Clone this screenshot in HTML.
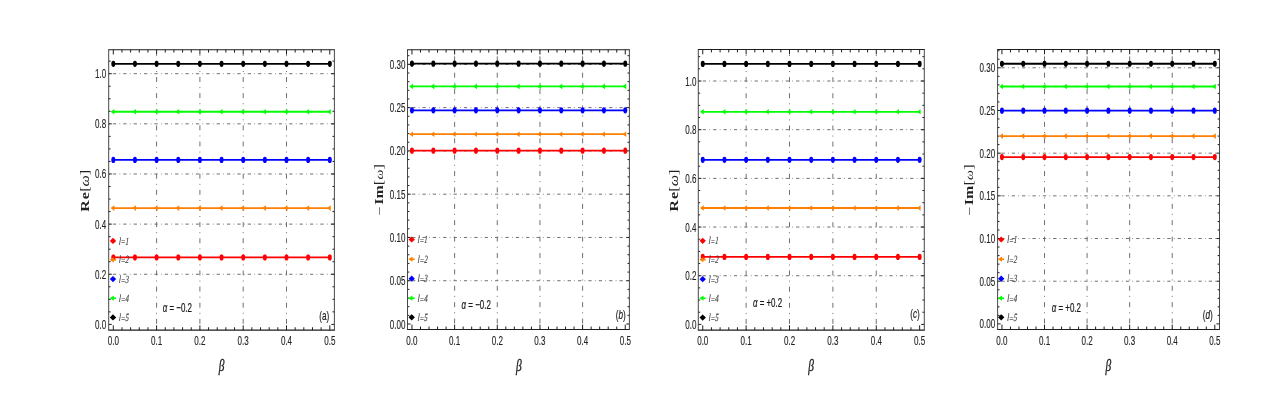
<!DOCTYPE html>
<html><head><meta charset="utf-8"><title>Plots</title>
<style>
html,body{margin:0;padding:0;background:#fff;}
svg{display:block;filter:blur(0.3px);}
.gh{stroke:#707070;stroke-width:1;}
.gv{stroke:#707070;stroke-width:1;}
.tk{stroke:#1e1e1e;stroke-width:1;fill:none;}
.frh{stroke:#1e1e1e;stroke-width:1.1;fill:none;}
.frv{stroke:#333;stroke-width:0.9;fill:none;}
.tl{font-family:"Liberation Sans", sans-serif;font-size:12.6px;fill:#222;stroke:#222;stroke-width:0.12px;}
.lg{font-family:"Liberation Serif", serif;font-size:11px;fill:#3a3a3a;stroke:#3a3a3a;stroke-width:0.15px;}
.al{font-family:"Liberation Sans", sans-serif;font-size:12.6px;fill:#1a1a1a;stroke:#1a1a1a;stroke-width:0.25px;}
.pl{font-family:"Liberation Sans", sans-serif;font-size:12.4px;fill:#222;stroke:#222;stroke-width:0.2px;}
.bt{font-family:"Liberation Serif", serif;font-size:16.8px;font-style:italic;fill:#222;stroke:#222;stroke-width:0.35px;}
.yl{font-family:"Liberation Serif", serif;font-size:16px;font-weight:bold;fill:#222;}
</style></head>
<body>
<svg width="1277" height="410" viewBox="0 0 1277 410">
<rect width="1277" height="410" fill="#fff"/>
<line x1="108.7" y1="274.26" x2="334.4" y2="274.26" class="gh" stroke-dasharray="3.30 3.30 0.75 3.02" stroke-dashoffset="6.17"/><line x1="108.7" y1="224.12" x2="334.4" y2="224.12" class="gh" stroke-dasharray="3.30 3.30 0.75 3.02" stroke-dashoffset="6.17"/><line x1="108.7" y1="173.98" x2="334.4" y2="173.98" class="gh" stroke-dasharray="3.30 3.30 0.75 3.02" stroke-dashoffset="6.17"/><line x1="108.7" y1="123.84" x2="334.4" y2="123.84" class="gh" stroke-dasharray="3.30 3.30 0.75 3.02" stroke-dashoffset="6.17"/><line x1="108.7" y1="73.7" x2="334.4" y2="73.7" class="gh" stroke-dasharray="3.30 3.30 0.75 3.02" stroke-dashoffset="6.17"/><line x1="156.6" y1="49.7" x2="156.6" y2="330.15" class="gv" stroke-dasharray="5 5.1 1 5.02" stroke-dashoffset="4.94"/><line x1="199.9" y1="49.7" x2="199.9" y2="330.15" class="gv" stroke-dasharray="5 5.1 1 5.02" stroke-dashoffset="4.94"/><line x1="243.2" y1="49.7" x2="243.2" y2="330.15" class="gv" stroke-dasharray="5 5.1 1 5.02" stroke-dashoffset="4.94"/><line x1="286.5" y1="49.7" x2="286.5" y2="330.15" class="gv" stroke-dasharray="5 5.1 1 5.02" stroke-dashoffset="4.94"/>
<path d="M113.3 330.15v-4.8M113.3 49.7v4.8M121.96 330.15v-2.9M121.96 49.7v2.9M130.62 330.15v-2.9M130.62 49.7v2.9M139.28 330.15v-2.9M139.28 49.7v2.9M147.94 330.15v-2.9M147.94 49.7v2.9M156.6 330.15v-4.8M156.6 49.7v4.8M165.26 330.15v-2.9M165.26 49.7v2.9M173.92 330.15v-2.9M173.92 49.7v2.9M182.58 330.15v-2.9M182.58 49.7v2.9M191.24 330.15v-2.9M191.24 49.7v2.9M199.9 330.15v-4.8M199.9 49.7v4.8M208.56 330.15v-2.9M208.56 49.7v2.9M217.22 330.15v-2.9M217.22 49.7v2.9M225.88 330.15v-2.9M225.88 49.7v2.9M234.54 330.15v-2.9M234.54 49.7v2.9M243.2 330.15v-4.8M243.2 49.7v4.8M251.86 330.15v-2.9M251.86 49.7v2.9M260.52 330.15v-2.9M260.52 49.7v2.9M269.18 330.15v-2.9M269.18 49.7v2.9M277.84 330.15v-2.9M277.84 49.7v2.9M286.5 330.15v-4.8M286.5 49.7v4.8M295.16 330.15v-2.9M295.16 49.7v2.9M303.82 330.15v-2.9M303.82 49.7v2.9M312.48 330.15v-2.9M312.48 49.7v2.9M321.14 330.15v-2.9M321.14 49.7v2.9M329.8 330.15v-4.8M329.8 49.7v4.8M108.7 324.4h3.1M334.4 324.4h-3.1M108.7 311.86h1.9M334.4 311.86h-1.9M108.7 299.33h1.9M334.4 299.33h-1.9M108.7 286.79h1.9M334.4 286.79h-1.9M108.7 274.26h3.1M334.4 274.26h-3.1M108.7 261.72h1.9M334.4 261.72h-1.9M108.7 249.19h1.9M334.4 249.19h-1.9M108.7 236.65h1.9M334.4 236.65h-1.9M108.7 224.12h3.1M334.4 224.12h-3.1M108.7 211.58h1.9M334.4 211.58h-1.9M108.7 199.05h1.9M334.4 199.05h-1.9M108.7 186.51h1.9M334.4 186.51h-1.9M108.7 173.98h3.1M334.4 173.98h-3.1M108.7 161.44h1.9M334.4 161.44h-1.9M108.7 148.91h1.9M334.4 148.91h-1.9M108.7 136.38h1.9M334.4 136.38h-1.9M108.7 123.84h3.1M334.4 123.84h-3.1M108.7 111.3h1.9M334.4 111.3h-1.9M108.7 98.77h1.9M334.4 98.77h-1.9M108.7 86.23h1.9M334.4 86.23h-1.9M108.7 73.7h3.1M334.4 73.7h-3.1M108.7 61.16h1.9M334.4 61.16h-1.9" class="tk"/>
<path d="M108.3 49.7H334.8M108.3 330.15H334.8" class="frh"/>
<path d="M108.7 49.7V330.15M334.4 49.7V330.15" class="frv"/>
<line x1="113.3" y1="257.4" x2="329.8" y2="257.4" stroke="#ff0000" stroke-width="1.8"/>
<g fill="#ff0000"><ellipse cx="113.3" cy="257.4" rx="2" ry="3.1"/><ellipse cx="134.95" cy="257.4" rx="2" ry="3.1"/><ellipse cx="156.6" cy="257.4" rx="2" ry="3.1"/><ellipse cx="178.25" cy="257.4" rx="2" ry="3.1"/><ellipse cx="199.9" cy="257.4" rx="2" ry="3.1"/><ellipse cx="221.55" cy="257.4" rx="2" ry="3.1"/><ellipse cx="243.2" cy="257.4" rx="2" ry="3.1"/><ellipse cx="264.85" cy="257.4" rx="2" ry="3.1"/><ellipse cx="286.5" cy="257.4" rx="2" ry="3.1"/><ellipse cx="308.15" cy="257.4" rx="2" ry="3.1"/><ellipse cx="329.8" cy="257.4" rx="2" ry="3.1"/></g>
<line x1="113.3" y1="208.1" x2="329.8" y2="208.1" stroke="#ff8000" stroke-width="1.8"/>
<g fill="#ff8000"><path d="M110.6 208.1L114.3 205.3L114.3 210.9Z"/><path d="M132.25 208.1L135.95 205.3L135.95 210.9Z"/><path d="M153.9 208.1L157.6 205.3L157.6 210.9Z"/><path d="M175.55 208.1L179.25 205.3L179.25 210.9Z"/><path d="M197.2 208.1L200.9 205.3L200.9 210.9Z"/><path d="M218.85 208.1L222.55 205.3L222.55 210.9Z"/><path d="M240.5 208.1L244.2 205.3L244.2 210.9Z"/><path d="M262.15 208.1L265.85 205.3L265.85 210.9Z"/><path d="M283.8 208.1L287.5 205.3L287.5 210.9Z"/><path d="M305.45 208.1L309.15 205.3L309.15 210.9Z"/><path d="M327.1 208.1L330.8 205.3L330.8 210.9Z"/></g>
<line x1="113.3" y1="159.9" x2="329.8" y2="159.9" stroke="#0000ff" stroke-width="1.8"/>
<g fill="#0000ff"><ellipse cx="113.3" cy="159.9" rx="2" ry="3.1"/><ellipse cx="134.95" cy="159.9" rx="2" ry="3.1"/><ellipse cx="156.6" cy="159.9" rx="2" ry="3.1"/><ellipse cx="178.25" cy="159.9" rx="2" ry="3.1"/><ellipse cx="199.9" cy="159.9" rx="2" ry="3.1"/><ellipse cx="221.55" cy="159.9" rx="2" ry="3.1"/><ellipse cx="243.2" cy="159.9" rx="2" ry="3.1"/><ellipse cx="264.85" cy="159.9" rx="2" ry="3.1"/><ellipse cx="286.5" cy="159.9" rx="2" ry="3.1"/><ellipse cx="308.15" cy="159.9" rx="2" ry="3.1"/><ellipse cx="329.8" cy="159.9" rx="2" ry="3.1"/></g>
<line x1="113.3" y1="111.75" x2="329.8" y2="111.75" stroke="#00ff00" stroke-width="1.8"/>
<g fill="#00ff00"><path d="M110.6 111.75L114.3 108.95L114.3 114.55Z"/><path d="M132.25 111.75L135.95 108.95L135.95 114.55Z"/><path d="M153.9 111.75L157.6 108.95L157.6 114.55Z"/><path d="M175.55 111.75L179.25 108.95L179.25 114.55Z"/><path d="M197.2 111.75L200.9 108.95L200.9 114.55Z"/><path d="M218.85 111.75L222.55 108.95L222.55 114.55Z"/><path d="M240.5 111.75L244.2 108.95L244.2 114.55Z"/><path d="M262.15 111.75L265.85 108.95L265.85 114.55Z"/><path d="M283.8 111.75L287.5 108.95L287.5 114.55Z"/><path d="M305.45 111.75L309.15 108.95L309.15 114.55Z"/><path d="M327.1 111.75L330.8 108.95L330.8 114.55Z"/></g>
<line x1="113.3" y1="63.85" x2="329.8" y2="63.85" stroke="#000000" stroke-width="1.8"/>
<g fill="#000000"><ellipse cx="113.3" cy="63.85" rx="2" ry="3.1"/><ellipse cx="134.95" cy="63.85" rx="2" ry="3.1"/><ellipse cx="156.6" cy="63.85" rx="2" ry="3.1"/><ellipse cx="178.25" cy="63.85" rx="2" ry="3.1"/><ellipse cx="199.9" cy="63.85" rx="2" ry="3.1"/><ellipse cx="221.55" cy="63.85" rx="2" ry="3.1"/><ellipse cx="243.2" cy="63.85" rx="2" ry="3.1"/><ellipse cx="264.85" cy="63.85" rx="2" ry="3.1"/><ellipse cx="286.5" cy="63.85" rx="2" ry="3.1"/><ellipse cx="308.15" cy="63.85" rx="2" ry="3.1"/><ellipse cx="329.8" cy="63.85" rx="2" ry="3.1"/></g>
<path d="M109.8 240.9L113 237.8L116.2 240.9L113 244Z" fill="#ff0000"/>
<text transform="translate(118.8 244.5) scale(0.64 1) skewX(-5)" class="lg"><tspan font-style="italic">l</tspan><tspan dx="0.5" dy="0.9" font-style="normal">=</tspan><tspan dx="0.3" dy="-0.9" font-style="italic">1</tspan></text>
<path d="M109.6 259.8L113.8 257.2L113.8 262.4Z" fill="#ff8000"/><line x1="113" y1="259.8" x2="116" y2="259.8" stroke="#ff8000" stroke-width="1.6"/>
<text transform="translate(118.8 263.4) scale(0.64 1) skewX(-5)" class="lg"><tspan font-style="italic">l</tspan><tspan dx="0.5" dy="0.9" font-style="normal">=</tspan><tspan dx="0.3" dy="-0.9" font-style="italic">2</tspan></text>
<path d="M109.8 279.1L113 276L116.2 279.1L113 282.2Z" fill="#0000ff"/>
<text transform="translate(118.8 282.7) scale(0.64 1) skewX(-5)" class="lg"><tspan font-style="italic">l</tspan><tspan dx="0.5" dy="0.9" font-style="normal">=</tspan><tspan dx="0.3" dy="-0.9" font-style="italic">3</tspan></text>
<path d="M109.6 298.2L113.8 295.6L113.8 300.8Z" fill="#00ff00"/><line x1="113" y1="298.2" x2="116" y2="298.2" stroke="#00ff00" stroke-width="1.6"/>
<text transform="translate(118.8 301.8) scale(0.64 1) skewX(-5)" class="lg"><tspan font-style="italic">l</tspan><tspan dx="0.5" dy="0.9" font-style="normal">=</tspan><tspan dx="0.3" dy="-0.9" font-style="italic">4</tspan></text>
<path d="M109.8 317.4L113 314.3L116.2 317.4L113 320.5Z" fill="#000000"/>
<text transform="translate(118.8 321) scale(0.64 1) skewX(-5)" class="lg"><tspan font-style="italic">l</tspan><tspan dx="0.5" dy="0.9" font-style="normal">=</tspan><tspan dx="0.3" dy="-0.9" font-style="italic">5</tspan></text>
<text transform="translate(106.3 328.9) scale(0.64 1)" class="tl" text-anchor="end">0.0</text>
<text transform="translate(106.3 278.76) scale(0.64 1)" class="tl" text-anchor="end">0.2</text>
<text transform="translate(106.3 228.62) scale(0.64 1)" class="tl" text-anchor="end">0.4</text>
<text transform="translate(106.3 178.48) scale(0.64 1)" class="tl" text-anchor="end">0.6</text>
<text transform="translate(106.3 128.34) scale(0.64 1)" class="tl" text-anchor="end">0.8</text>
<text transform="translate(106.3 78.2) scale(0.64 1)" class="tl" text-anchor="end">1.0</text>
<text transform="translate(113.3 345) scale(0.64 1)" class="tl" text-anchor="middle">0.0</text>
<text transform="translate(156.6 345) scale(0.64 1)" class="tl" text-anchor="middle">0.1</text>
<text transform="translate(199.9 345) scale(0.64 1)" class="tl" text-anchor="middle">0.2</text>
<text transform="translate(243.2 345) scale(0.64 1)" class="tl" text-anchor="middle">0.3</text>
<text transform="translate(286.5 345) scale(0.64 1)" class="tl" text-anchor="middle">0.4</text>
<text transform="translate(329.8 345) scale(0.64 1)" class="tl" text-anchor="middle">0.5</text>
<text transform="translate(162.7 312.1) scale(0.63 1)" class="al"><tspan font-style="italic">α</tspan> = −0.2</text>
<text transform="translate(319.3 320) scale(0.66 1)" class="pl">(<tspan font-style="normal">a</tspan>)</text>
<text transform="translate(221.5 370.6) scale(0.68 1)" class="bt" text-anchor="middle">β</text>
<text transform="translate(88.5 190.8) rotate(-90) scale(1.0 0.72)" class="yl" text-anchor="middle">R<tspan dx="0.9">e</tspan><tspan font-weight="normal" dx="0.3">[</tspan><tspan font-weight="normal" font-style="italic">ω</tspan><tspan font-weight="normal">]</tspan></text>
<line x1="407.5" y1="280.73" x2="629.4" y2="280.73" class="gh" stroke-dasharray="3.30 3.30 0.75 3.02" stroke-dashoffset="5.81"/><line x1="407.5" y1="237.45" x2="629.4" y2="237.45" class="gh" stroke-dasharray="3.30 3.30 0.75 3.02" stroke-dashoffset="5.81"/><line x1="407.5" y1="194.18" x2="629.4" y2="194.18" class="gh" stroke-dasharray="3.30 3.30 0.75 3.02" stroke-dashoffset="5.81"/><line x1="407.5" y1="150.9" x2="629.4" y2="150.9" class="gh" stroke-dasharray="3.30 3.30 0.75 3.02" stroke-dashoffset="5.81"/><line x1="407.5" y1="107.62" x2="629.4" y2="107.62" class="gh" stroke-dasharray="3.30 3.30 0.75 3.02" stroke-dashoffset="5.81"/><line x1="407.5" y1="64.35" x2="629.4" y2="64.35" class="gh" stroke-dasharray="3.30 3.30 0.75 3.02" stroke-dashoffset="5.81"/><line x1="454.62" y1="49.7" x2="454.62" y2="329.45" class="gv" stroke-dasharray="5 5.1 1 5.29" stroke-dashoffset="9.78"/><line x1="497.28" y1="49.7" x2="497.28" y2="329.45" class="gv" stroke-dasharray="5 5.1 1 5.29" stroke-dashoffset="9.78"/><line x1="539.94" y1="49.7" x2="539.94" y2="329.45" class="gv" stroke-dasharray="5 5.1 1 5.29" stroke-dashoffset="9.78"/><line x1="582.6" y1="49.7" x2="582.6" y2="329.45" class="gv" stroke-dasharray="5 5.1 1 5.29" stroke-dashoffset="9.78"/>
<path d="M411.96 329.45v-4.8M411.96 49.7v4.8M420.49 329.45v-2.9M420.49 49.7v2.9M429.02 329.45v-2.9M429.02 49.7v2.9M437.56 329.45v-2.9M437.56 49.7v2.9M446.09 329.45v-2.9M446.09 49.7v2.9M454.62 329.45v-4.8M454.62 49.7v4.8M463.15 329.45v-2.9M463.15 49.7v2.9M471.68 329.45v-2.9M471.68 49.7v2.9M480.22 329.45v-2.9M480.22 49.7v2.9M488.75 329.45v-2.9M488.75 49.7v2.9M497.28 329.45v-4.8M497.28 49.7v4.8M505.81 329.45v-2.9M505.81 49.7v2.9M514.34 329.45v-2.9M514.34 49.7v2.9M522.88 329.45v-2.9M522.88 49.7v2.9M531.41 329.45v-2.9M531.41 49.7v2.9M539.94 329.45v-4.8M539.94 49.7v4.8M548.47 329.45v-2.9M548.47 49.7v2.9M557 329.45v-2.9M557 49.7v2.9M565.54 329.45v-2.9M565.54 49.7v2.9M574.07 329.45v-2.9M574.07 49.7v2.9M582.6 329.45v-4.8M582.6 49.7v4.8M591.13 329.45v-2.9M591.13 49.7v2.9M599.66 329.45v-2.9M599.66 49.7v2.9M608.2 329.45v-2.9M608.2 49.7v2.9M616.73 329.45v-2.9M616.73 49.7v2.9M625.26 329.45v-4.8M625.26 49.7v4.8M407.5 324h3.1M629.4 324h-3.1M407.5 315.35h1.9M629.4 315.35h-1.9M407.5 306.69h1.9M629.4 306.69h-1.9M407.5 298.04h1.9M629.4 298.04h-1.9M407.5 289.38h1.9M629.4 289.38h-1.9M407.5 280.73h3.1M629.4 280.73h-3.1M407.5 272.07h1.9M629.4 272.07h-1.9M407.5 263.41h1.9M629.4 263.41h-1.9M407.5 254.76h1.9M629.4 254.76h-1.9M407.5 246.11h1.9M629.4 246.11h-1.9M407.5 237.45h3.1M629.4 237.45h-3.1M407.5 228.8h1.9M629.4 228.8h-1.9M407.5 220.14h1.9M629.4 220.14h-1.9M407.5 211.49h1.9M629.4 211.49h-1.9M407.5 202.83h1.9M629.4 202.83h-1.9M407.5 194.18h3.1M629.4 194.18h-3.1M407.5 185.52h1.9M629.4 185.52h-1.9M407.5 176.86h1.9M629.4 176.86h-1.9M407.5 168.21h1.9M629.4 168.21h-1.9M407.5 159.56h1.9M629.4 159.56h-1.9M407.5 150.9h3.1M629.4 150.9h-3.1M407.5 142.25h1.9M629.4 142.25h-1.9M407.5 133.59h1.9M629.4 133.59h-1.9M407.5 124.94h1.9M629.4 124.94h-1.9M407.5 116.28h1.9M629.4 116.28h-1.9M407.5 107.62h3.1M629.4 107.62h-3.1M407.5 98.97h1.9M629.4 98.97h-1.9M407.5 90.31h1.9M629.4 90.31h-1.9M407.5 81.66h1.9M629.4 81.66h-1.9M407.5 73.01h1.9M629.4 73.01h-1.9M407.5 64.35h3.1M629.4 64.35h-3.1M407.5 55.69h1.9M629.4 55.69h-1.9" class="tk"/>
<path d="M407.1 49.7H629.8M407.1 329.45H629.8" class="frh"/>
<path d="M407.5 49.7V329.45M629.4 49.7V329.45" class="frv"/>
<line x1="411.96" y1="150.7" x2="625.26" y2="150.7" stroke="#ff0000" stroke-width="1.8"/>
<g fill="#ff0000"><ellipse cx="411.96" cy="150.7" rx="2" ry="3.1"/><ellipse cx="433.29" cy="150.7" rx="2" ry="3.1"/><ellipse cx="454.62" cy="150.7" rx="2" ry="3.1"/><ellipse cx="475.95" cy="150.7" rx="2" ry="3.1"/><ellipse cx="497.28" cy="150.7" rx="2" ry="3.1"/><ellipse cx="518.61" cy="150.7" rx="2" ry="3.1"/><ellipse cx="539.94" cy="150.7" rx="2" ry="3.1"/><ellipse cx="561.27" cy="150.7" rx="2" ry="3.1"/><ellipse cx="582.6" cy="150.7" rx="2" ry="3.1"/><ellipse cx="603.93" cy="150.7" rx="2" ry="3.1"/><ellipse cx="625.26" cy="150.7" rx="2" ry="3.1"/></g>
<line x1="411.96" y1="134.2" x2="625.26" y2="134.2" stroke="#ff8000" stroke-width="1.8"/>
<g fill="#ff8000"><path d="M409.26 134.2L412.96 131.4L412.96 137Z"/><path d="M430.59 134.2L434.29 131.4L434.29 137Z"/><path d="M451.92 134.2L455.62 131.4L455.62 137Z"/><path d="M473.25 134.2L476.95 131.4L476.95 137Z"/><path d="M494.58 134.2L498.28 131.4L498.28 137Z"/><path d="M515.91 134.2L519.61 131.4L519.61 137Z"/><path d="M537.24 134.2L540.94 131.4L540.94 137Z"/><path d="M558.57 134.2L562.27 131.4L562.27 137Z"/><path d="M579.9 134.2L583.6 131.4L583.6 137Z"/><path d="M601.23 134.2L604.93 131.4L604.93 137Z"/><path d="M622.56 134.2L626.26 131.4L626.26 137Z"/></g>
<line x1="411.96" y1="110.3" x2="625.26" y2="110.3" stroke="#0000ff" stroke-width="1.8"/>
<g fill="#0000ff"><ellipse cx="411.96" cy="110.3" rx="2" ry="3.1"/><ellipse cx="433.29" cy="110.3" rx="2" ry="3.1"/><ellipse cx="454.62" cy="110.3" rx="2" ry="3.1"/><ellipse cx="475.95" cy="110.3" rx="2" ry="3.1"/><ellipse cx="497.28" cy="110.3" rx="2" ry="3.1"/><ellipse cx="518.61" cy="110.3" rx="2" ry="3.1"/><ellipse cx="539.94" cy="110.3" rx="2" ry="3.1"/><ellipse cx="561.27" cy="110.3" rx="2" ry="3.1"/><ellipse cx="582.6" cy="110.3" rx="2" ry="3.1"/><ellipse cx="603.93" cy="110.3" rx="2" ry="3.1"/><ellipse cx="625.26" cy="110.3" rx="2" ry="3.1"/></g>
<line x1="411.96" y1="86.4" x2="625.26" y2="86.4" stroke="#00ff00" stroke-width="1.8"/>
<g fill="#00ff00"><path d="M409.26 86.4L412.96 83.6L412.96 89.2Z"/><path d="M430.59 86.4L434.29 83.6L434.29 89.2Z"/><path d="M451.92 86.4L455.62 83.6L455.62 89.2Z"/><path d="M473.25 86.4L476.95 83.6L476.95 89.2Z"/><path d="M494.58 86.4L498.28 83.6L498.28 89.2Z"/><path d="M515.91 86.4L519.61 83.6L519.61 89.2Z"/><path d="M537.24 86.4L540.94 83.6L540.94 89.2Z"/><path d="M558.57 86.4L562.27 83.6L562.27 89.2Z"/><path d="M579.9 86.4L583.6 83.6L583.6 89.2Z"/><path d="M601.23 86.4L604.93 83.6L604.93 89.2Z"/><path d="M622.56 86.4L626.26 83.6L626.26 89.2Z"/></g>
<line x1="411.96" y1="63.7" x2="625.26" y2="63.7" stroke="#000000" stroke-width="1.8"/>
<g fill="#000000"><ellipse cx="411.96" cy="63.7" rx="2" ry="3.1"/><ellipse cx="433.29" cy="63.7" rx="2" ry="3.1"/><ellipse cx="454.62" cy="63.7" rx="2" ry="3.1"/><ellipse cx="475.95" cy="63.7" rx="2" ry="3.1"/><ellipse cx="497.28" cy="63.7" rx="2" ry="3.1"/><ellipse cx="518.61" cy="63.7" rx="2" ry="3.1"/><ellipse cx="539.94" cy="63.7" rx="2" ry="3.1"/><ellipse cx="561.27" cy="63.7" rx="2" ry="3.1"/><ellipse cx="582.6" cy="63.7" rx="2" ry="3.1"/><ellipse cx="603.93" cy="63.7" rx="2" ry="3.1"/><ellipse cx="625.26" cy="63.7" rx="2" ry="3.1"/></g>
<path d="M408.5 239.5L411.7 236.4L414.9 239.5L411.7 242.6Z" fill="#ff0000"/>
<text transform="translate(417.5 243.1) scale(0.64 1) skewX(-5)" class="lg"><tspan font-style="italic">l</tspan><tspan dx="0.5" dy="0.9" font-style="normal">=</tspan><tspan dx="0.3" dy="-0.9" font-style="italic">1</tspan></text>
<path d="M408.3 259.2L412.5 256.6L412.5 261.8Z" fill="#ff8000"/><line x1="411.7" y1="259.2" x2="414.7" y2="259.2" stroke="#ff8000" stroke-width="1.6"/>
<text transform="translate(417.5 262.8) scale(0.64 1) skewX(-5)" class="lg"><tspan font-style="italic">l</tspan><tspan dx="0.5" dy="0.9" font-style="normal">=</tspan><tspan dx="0.3" dy="-0.9" font-style="italic">2</tspan></text>
<path d="M408.5 278.7L411.7 275.6L414.9 278.7L411.7 281.8Z" fill="#0000ff"/>
<text transform="translate(417.5 282.3) scale(0.64 1) skewX(-5)" class="lg"><tspan font-style="italic">l</tspan><tspan dx="0.5" dy="0.9" font-style="normal">=</tspan><tspan dx="0.3" dy="-0.9" font-style="italic">3</tspan></text>
<path d="M408.3 298.2L412.5 295.6L412.5 300.8Z" fill="#00ff00"/><line x1="411.7" y1="298.2" x2="414.7" y2="298.2" stroke="#00ff00" stroke-width="1.6"/>
<text transform="translate(417.5 301.8) scale(0.64 1) skewX(-5)" class="lg"><tspan font-style="italic">l</tspan><tspan dx="0.5" dy="0.9" font-style="normal">=</tspan><tspan dx="0.3" dy="-0.9" font-style="italic">4</tspan></text>
<path d="M408.5 317.3L411.7 314.2L414.9 317.3L411.7 320.4Z" fill="#000000"/>
<text transform="translate(417.5 320.9) scale(0.64 1) skewX(-5)" class="lg"><tspan font-style="italic">l</tspan><tspan dx="0.5" dy="0.9" font-style="normal">=</tspan><tspan dx="0.3" dy="-0.9" font-style="italic">5</tspan></text>
<text transform="translate(405.5 328.5) scale(0.64 1)" class="tl" text-anchor="end">0.00</text>
<text transform="translate(405.5 285.23) scale(0.64 1)" class="tl" text-anchor="end">0.05</text>
<text transform="translate(405.5 241.95) scale(0.64 1)" class="tl" text-anchor="end">0.10</text>
<text transform="translate(405.5 198.68) scale(0.64 1)" class="tl" text-anchor="end">0.15</text>
<text transform="translate(405.5 155.4) scale(0.64 1)" class="tl" text-anchor="end">0.20</text>
<text transform="translate(405.5 112.12) scale(0.64 1)" class="tl" text-anchor="end">0.25</text>
<text transform="translate(405.5 68.85) scale(0.64 1)" class="tl" text-anchor="end">0.30</text>
<text transform="translate(411.96 345) scale(0.64 1)" class="tl" text-anchor="middle">0.0</text>
<text transform="translate(454.62 345) scale(0.64 1)" class="tl" text-anchor="middle">0.1</text>
<text transform="translate(497.28 345) scale(0.64 1)" class="tl" text-anchor="middle">0.2</text>
<text transform="translate(539.94 345) scale(0.64 1)" class="tl" text-anchor="middle">0.3</text>
<text transform="translate(582.6 345) scale(0.64 1)" class="tl" text-anchor="middle">0.4</text>
<text transform="translate(625.26 345) scale(0.64 1)" class="tl" text-anchor="middle">0.5</text>
<text transform="translate(461.6 309.2) scale(0.63 1)" class="al"><tspan font-style="italic">α</tspan> = −0.2</text>
<text transform="translate(615.8 319) scale(0.66 1)" class="pl">(<tspan font-style="italic">b</tspan>)</text>
<text transform="translate(518.9 370.6) scale(0.68 1)" class="bt" text-anchor="middle">β</text>
<text transform="translate(383.4 189.75) rotate(-90) scale(1.0 0.72)" class="yl" text-anchor="middle"><tspan font-weight="normal">−</tspan><tspan dx="1.6">Im</tspan><tspan font-weight="normal">[</tspan><tspan font-weight="normal" font-style="italic" font-size="14px" dx="0.3">ω</tspan><tspan font-weight="normal" dx="0.3">]</tspan></text>
<line x1="698.3" y1="275.72" x2="924.3" y2="275.72" class="gh" stroke-dasharray="3.30 3.30 0.75 3.02" stroke-dashoffset="5.92"/><line x1="698.3" y1="227.04" x2="924.3" y2="227.04" class="gh" stroke-dasharray="3.30 3.30 0.75 3.02" stroke-dashoffset="5.92"/><line x1="698.3" y1="178.36" x2="924.3" y2="178.36" class="gh" stroke-dasharray="3.30 3.30 0.75 3.02" stroke-dashoffset="5.92"/><line x1="698.3" y1="129.68" x2="924.3" y2="129.68" class="gh" stroke-dasharray="3.30 3.30 0.75 3.02" stroke-dashoffset="5.92"/><line x1="698.3" y1="81" x2="924.3" y2="81" class="gh" stroke-dasharray="3.30 3.30 0.75 3.02" stroke-dashoffset="5.92"/><line x1="746.13" y1="49.5" x2="746.13" y2="330.15" class="gv" stroke-dasharray="5 5.1 1 5.02" stroke-dashoffset="4.64"/><line x1="789.51" y1="49.5" x2="789.51" y2="330.15" class="gv" stroke-dasharray="5 5.1 1 5.02" stroke-dashoffset="4.64"/><line x1="832.89" y1="49.5" x2="832.89" y2="330.15" class="gv" stroke-dasharray="5 5.1 1 5.02" stroke-dashoffset="4.64"/><line x1="876.27" y1="49.5" x2="876.27" y2="330.15" class="gv" stroke-dasharray="5 5.1 1 5.02" stroke-dashoffset="4.64"/>
<path d="M702.75 330.15v-4.8M702.75 49.5v4.8M711.43 330.15v-2.9M711.43 49.5v2.9M720.1 330.15v-2.9M720.1 49.5v2.9M728.78 330.15v-2.9M728.78 49.5v2.9M737.45 330.15v-2.9M737.45 49.5v2.9M746.13 330.15v-4.8M746.13 49.5v4.8M754.81 330.15v-2.9M754.81 49.5v2.9M763.48 330.15v-2.9M763.48 49.5v2.9M772.16 330.15v-2.9M772.16 49.5v2.9M780.83 330.15v-2.9M780.83 49.5v2.9M789.51 330.15v-4.8M789.51 49.5v4.8M798.19 330.15v-2.9M798.19 49.5v2.9M806.86 330.15v-2.9M806.86 49.5v2.9M815.54 330.15v-2.9M815.54 49.5v2.9M824.21 330.15v-2.9M824.21 49.5v2.9M832.89 330.15v-4.8M832.89 49.5v4.8M841.57 330.15v-2.9M841.57 49.5v2.9M850.24 330.15v-2.9M850.24 49.5v2.9M858.92 330.15v-2.9M858.92 49.5v2.9M867.59 330.15v-2.9M867.59 49.5v2.9M876.27 330.15v-4.8M876.27 49.5v4.8M884.95 330.15v-2.9M884.95 49.5v2.9M893.62 330.15v-2.9M893.62 49.5v2.9M902.3 330.15v-2.9M902.3 49.5v2.9M910.97 330.15v-2.9M910.97 49.5v2.9M919.65 330.15v-4.8M919.65 49.5v4.8M698.3 324.4h3.1M924.3 324.4h-3.1M698.3 312.23h1.9M924.3 312.23h-1.9M698.3 300.06h1.9M924.3 300.06h-1.9M698.3 287.89h1.9M924.3 287.89h-1.9M698.3 275.72h3.1M924.3 275.72h-3.1M698.3 263.55h1.9M924.3 263.55h-1.9M698.3 251.38h1.9M924.3 251.38h-1.9M698.3 239.21h1.9M924.3 239.21h-1.9M698.3 227.04h3.1M924.3 227.04h-3.1M698.3 214.87h1.9M924.3 214.87h-1.9M698.3 202.7h1.9M924.3 202.7h-1.9M698.3 190.53h1.9M924.3 190.53h-1.9M698.3 178.36h3.1M924.3 178.36h-3.1M698.3 166.19h1.9M924.3 166.19h-1.9M698.3 154.02h1.9M924.3 154.02h-1.9M698.3 141.85h1.9M924.3 141.85h-1.9M698.3 129.68h3.1M924.3 129.68h-3.1M698.3 117.51h1.9M924.3 117.51h-1.9M698.3 105.34h1.9M924.3 105.34h-1.9M698.3 93.17h1.9M924.3 93.17h-1.9M698.3 81h3.1M924.3 81h-3.1M698.3 68.83h1.9M924.3 68.83h-1.9M698.3 56.66h1.9M924.3 56.66h-1.9" class="tk"/>
<path d="M697.9 49.5H924.7M697.9 330.15H924.7" class="frh"/>
<path d="M698.3 49.5V330.15M924.3 49.5V330.15" class="frv"/>
<line x1="702.75" y1="256.9" x2="919.65" y2="256.9" stroke="#ff0000" stroke-width="1.8"/>
<g fill="#ff0000"><ellipse cx="702.75" cy="256.9" rx="2" ry="3.1"/><ellipse cx="724.44" cy="256.9" rx="2" ry="3.1"/><ellipse cx="746.13" cy="256.9" rx="2" ry="3.1"/><ellipse cx="767.82" cy="256.9" rx="2" ry="3.1"/><ellipse cx="789.51" cy="256.9" rx="2" ry="3.1"/><ellipse cx="811.2" cy="256.9" rx="2" ry="3.1"/><ellipse cx="832.89" cy="256.9" rx="2" ry="3.1"/><ellipse cx="854.58" cy="256.9" rx="2" ry="3.1"/><ellipse cx="876.27" cy="256.9" rx="2" ry="3.1"/><ellipse cx="897.96" cy="256.9" rx="2" ry="3.1"/><ellipse cx="919.65" cy="256.9" rx="2" ry="3.1"/></g>
<line x1="702.75" y1="208" x2="919.65" y2="208" stroke="#ff8000" stroke-width="1.8"/>
<g fill="#ff8000"><path d="M700.05 208L703.75 205.2L703.75 210.8Z"/><path d="M721.74 208L725.44 205.2L725.44 210.8Z"/><path d="M743.43 208L747.13 205.2L747.13 210.8Z"/><path d="M765.12 208L768.82 205.2L768.82 210.8Z"/><path d="M786.81 208L790.51 205.2L790.51 210.8Z"/><path d="M808.5 208L812.2 205.2L812.2 210.8Z"/><path d="M830.19 208L833.89 205.2L833.89 210.8Z"/><path d="M851.88 208L855.58 205.2L855.58 210.8Z"/><path d="M873.57 208L877.27 205.2L877.27 210.8Z"/><path d="M895.26 208L898.96 205.2L898.96 210.8Z"/><path d="M916.95 208L920.65 205.2L920.65 210.8Z"/></g>
<line x1="702.75" y1="159.8" x2="919.65" y2="159.8" stroke="#0000ff" stroke-width="1.8"/>
<g fill="#0000ff"><ellipse cx="702.75" cy="159.8" rx="2" ry="3.1"/><ellipse cx="724.44" cy="159.8" rx="2" ry="3.1"/><ellipse cx="746.13" cy="159.8" rx="2" ry="3.1"/><ellipse cx="767.82" cy="159.8" rx="2" ry="3.1"/><ellipse cx="789.51" cy="159.8" rx="2" ry="3.1"/><ellipse cx="811.2" cy="159.8" rx="2" ry="3.1"/><ellipse cx="832.89" cy="159.8" rx="2" ry="3.1"/><ellipse cx="854.58" cy="159.8" rx="2" ry="3.1"/><ellipse cx="876.27" cy="159.8" rx="2" ry="3.1"/><ellipse cx="897.96" cy="159.8" rx="2" ry="3.1"/><ellipse cx="919.65" cy="159.8" rx="2" ry="3.1"/></g>
<line x1="702.75" y1="111.8" x2="919.65" y2="111.8" stroke="#00ff00" stroke-width="1.8"/>
<g fill="#00ff00"><path d="M700.05 111.8L703.75 109L703.75 114.6Z"/><path d="M721.74 111.8L725.44 109L725.44 114.6Z"/><path d="M743.43 111.8L747.13 109L747.13 114.6Z"/><path d="M765.12 111.8L768.82 109L768.82 114.6Z"/><path d="M786.81 111.8L790.51 109L790.51 114.6Z"/><path d="M808.5 111.8L812.2 109L812.2 114.6Z"/><path d="M830.19 111.8L833.89 109L833.89 114.6Z"/><path d="M851.88 111.8L855.58 109L855.58 114.6Z"/><path d="M873.57 111.8L877.27 109L877.27 114.6Z"/><path d="M895.26 111.8L898.96 109L898.96 114.6Z"/><path d="M916.95 111.8L920.65 109L920.65 114.6Z"/></g>
<line x1="702.75" y1="63.9" x2="919.65" y2="63.9" stroke="#000000" stroke-width="1.8"/>
<g fill="#000000"><ellipse cx="702.75" cy="63.9" rx="2" ry="3.1"/><ellipse cx="724.44" cy="63.9" rx="2" ry="3.1"/><ellipse cx="746.13" cy="63.9" rx="2" ry="3.1"/><ellipse cx="767.82" cy="63.9" rx="2" ry="3.1"/><ellipse cx="789.51" cy="63.9" rx="2" ry="3.1"/><ellipse cx="811.2" cy="63.9" rx="2" ry="3.1"/><ellipse cx="832.89" cy="63.9" rx="2" ry="3.1"/><ellipse cx="854.58" cy="63.9" rx="2" ry="3.1"/><ellipse cx="876.27" cy="63.9" rx="2" ry="3.1"/><ellipse cx="897.96" cy="63.9" rx="2" ry="3.1"/><ellipse cx="919.65" cy="63.9" rx="2" ry="3.1"/></g>
<path d="M699.5 240.8L702.7 237.7L705.9 240.8L702.7 243.9Z" fill="#ff0000"/>
<text transform="translate(708.5 244.4) scale(0.64 1) skewX(-5)" class="lg"><tspan font-style="italic">l</tspan><tspan dx="0.5" dy="0.9" font-style="normal">=</tspan><tspan dx="0.3" dy="-0.9" font-style="italic">1</tspan></text>
<path d="M699.3 259.7L703.5 257.1L703.5 262.3Z" fill="#ff8000"/><line x1="702.7" y1="259.7" x2="705.7" y2="259.7" stroke="#ff8000" stroke-width="1.6"/>
<text transform="translate(708.5 263.3) scale(0.64 1) skewX(-5)" class="lg"><tspan font-style="italic">l</tspan><tspan dx="0.5" dy="0.9" font-style="normal">=</tspan><tspan dx="0.3" dy="-0.9" font-style="italic">2</tspan></text>
<path d="M699.5 279.2L702.7 276.1L705.9 279.2L702.7 282.3Z" fill="#0000ff"/>
<text transform="translate(708.5 282.8) scale(0.64 1) skewX(-5)" class="lg"><tspan font-style="italic">l</tspan><tspan dx="0.5" dy="0.9" font-style="normal">=</tspan><tspan dx="0.3" dy="-0.9" font-style="italic">3</tspan></text>
<path d="M699.3 298.2L703.5 295.6L703.5 300.8Z" fill="#00ff00"/><line x1="702.7" y1="298.2" x2="705.7" y2="298.2" stroke="#00ff00" stroke-width="1.6"/>
<text transform="translate(708.5 301.8) scale(0.64 1) skewX(-5)" class="lg"><tspan font-style="italic">l</tspan><tspan dx="0.5" dy="0.9" font-style="normal">=</tspan><tspan dx="0.3" dy="-0.9" font-style="italic">4</tspan></text>
<path d="M699.5 317.6L702.7 314.5L705.9 317.6L702.7 320.7Z" fill="#000000"/>
<text transform="translate(708.5 321.2) scale(0.64 1) skewX(-5)" class="lg"><tspan font-style="italic">l</tspan><tspan dx="0.5" dy="0.9" font-style="normal">=</tspan><tspan dx="0.3" dy="-0.9" font-style="italic">5</tspan></text>
<text transform="translate(696.4 328.9) scale(0.64 1)" class="tl" text-anchor="end">0.0</text>
<text transform="translate(696.4 280.22) scale(0.64 1)" class="tl" text-anchor="end">0.2</text>
<text transform="translate(696.4 231.54) scale(0.64 1)" class="tl" text-anchor="end">0.4</text>
<text transform="translate(696.4 182.86) scale(0.64 1)" class="tl" text-anchor="end">0.6</text>
<text transform="translate(696.4 134.18) scale(0.64 1)" class="tl" text-anchor="end">0.8</text>
<text transform="translate(696.4 85.5) scale(0.64 1)" class="tl" text-anchor="end">1.0</text>
<text transform="translate(702.75 345) scale(0.64 1)" class="tl" text-anchor="middle">0.0</text>
<text transform="translate(746.13 345) scale(0.64 1)" class="tl" text-anchor="middle">0.1</text>
<text transform="translate(789.51 345) scale(0.64 1)" class="tl" text-anchor="middle">0.2</text>
<text transform="translate(832.89 345) scale(0.64 1)" class="tl" text-anchor="middle">0.3</text>
<text transform="translate(876.27 345) scale(0.64 1)" class="tl" text-anchor="middle">0.4</text>
<text transform="translate(919.65 345) scale(0.64 1)" class="tl" text-anchor="middle">0.5</text>
<text transform="translate(752.9 307) scale(0.63 1)" class="al"><tspan font-style="italic">α</tspan> = +0.2</text>
<text transform="translate(910.2 318.2) scale(0.66 1)" class="pl">(<tspan font-style="italic">c</tspan>)</text>
<text transform="translate(811.2 370.6) scale(0.68 1)" class="bt" text-anchor="middle">β</text>
<text transform="translate(678.3 190.6) rotate(-90) scale(1.0 0.72)" class="yl" text-anchor="middle">R<tspan dx="0.9">e</tspan><tspan font-weight="normal" dx="0.3">[</tspan><tspan font-weight="normal" font-style="italic">ω</tspan><tspan font-weight="normal">]</tspan></text>
<line x1="997.6" y1="281.21" x2="1219.5" y2="281.21" class="gh" stroke-dasharray="3.30 3.30 0.75 3.02" stroke-dashoffset="6.62"/><line x1="997.6" y1="238.53" x2="1219.5" y2="238.53" class="gh" stroke-dasharray="3.30 3.30 0.75 3.02" stroke-dashoffset="6.62"/><line x1="997.6" y1="195.84" x2="1219.5" y2="195.84" class="gh" stroke-dasharray="3.30 3.30 0.75 3.02" stroke-dashoffset="6.62"/><line x1="997.6" y1="153.16" x2="1219.5" y2="153.16" class="gh" stroke-dasharray="3.30 3.30 0.75 3.02" stroke-dashoffset="6.62"/><line x1="997.6" y1="110.47" x2="1219.5" y2="110.47" class="gh" stroke-dasharray="3.30 3.30 0.75 3.02" stroke-dashoffset="6.62"/><line x1="997.6" y1="67.79" x2="1219.5" y2="67.79" class="gh" stroke-dasharray="3.30 3.30 0.75 3.02" stroke-dashoffset="6.62"/><line x1="1044.52" y1="49.5" x2="1044.52" y2="329.45" class="gv" stroke-dasharray="5 5.1 1 5.29" stroke-dashoffset="9.58"/><line x1="1087.09" y1="49.5" x2="1087.09" y2="329.45" class="gv" stroke-dasharray="5 5.1 1 5.29" stroke-dashoffset="9.58"/><line x1="1129.66" y1="49.5" x2="1129.66" y2="329.45" class="gv" stroke-dasharray="5 5.1 1 5.29" stroke-dashoffset="9.58"/><line x1="1172.23" y1="49.5" x2="1172.23" y2="329.45" class="gv" stroke-dasharray="5 5.1 1 5.29" stroke-dashoffset="9.58"/>
<path d="M1001.95 329.45v-4.8M1001.95 49.5v4.8M1010.46 329.45v-2.9M1010.46 49.5v2.9M1018.98 329.45v-2.9M1018.98 49.5v2.9M1027.49 329.45v-2.9M1027.49 49.5v2.9M1036.01 329.45v-2.9M1036.01 49.5v2.9M1044.52 329.45v-4.8M1044.52 49.5v4.8M1053.03 329.45v-2.9M1053.03 49.5v2.9M1061.55 329.45v-2.9M1061.55 49.5v2.9M1070.06 329.45v-2.9M1070.06 49.5v2.9M1078.58 329.45v-2.9M1078.58 49.5v2.9M1087.09 329.45v-4.8M1087.09 49.5v4.8M1095.6 329.45v-2.9M1095.6 49.5v2.9M1104.12 329.45v-2.9M1104.12 49.5v2.9M1112.63 329.45v-2.9M1112.63 49.5v2.9M1121.15 329.45v-2.9M1121.15 49.5v2.9M1129.66 329.45v-4.8M1129.66 49.5v4.8M1138.17 329.45v-2.9M1138.17 49.5v2.9M1146.69 329.45v-2.9M1146.69 49.5v2.9M1155.2 329.45v-2.9M1155.2 49.5v2.9M1163.72 329.45v-2.9M1163.72 49.5v2.9M1172.23 329.45v-4.8M1172.23 49.5v4.8M1180.74 329.45v-2.9M1180.74 49.5v2.9M1189.26 329.45v-2.9M1189.26 49.5v2.9M1197.77 329.45v-2.9M1197.77 49.5v2.9M1206.29 329.45v-2.9M1206.29 49.5v2.9M1214.8 329.45v-4.8M1214.8 49.5v4.8M997.6 323.9h3.1M1219.5 323.9h-3.1M997.6 315.36h1.9M1219.5 315.36h-1.9M997.6 306.83h1.9M1219.5 306.83h-1.9M997.6 298.29h1.9M1219.5 298.29h-1.9M997.6 289.75h1.9M1219.5 289.75h-1.9M997.6 281.21h3.1M1219.5 281.21h-3.1M997.6 272.68h1.9M1219.5 272.68h-1.9M997.6 264.14h1.9M1219.5 264.14h-1.9M997.6 255.6h1.9M1219.5 255.6h-1.9M997.6 247.07h1.9M1219.5 247.07h-1.9M997.6 238.53h3.1M1219.5 238.53h-3.1M997.6 229.99h1.9M1219.5 229.99h-1.9M997.6 221.46h1.9M1219.5 221.46h-1.9M997.6 212.92h1.9M1219.5 212.92h-1.9M997.6 204.38h1.9M1219.5 204.38h-1.9M997.6 195.84h3.1M1219.5 195.84h-3.1M997.6 187.31h1.9M1219.5 187.31h-1.9M997.6 178.77h1.9M1219.5 178.77h-1.9M997.6 170.23h1.9M1219.5 170.23h-1.9M997.6 161.7h1.9M1219.5 161.7h-1.9M997.6 153.16h3.1M1219.5 153.16h-3.1M997.6 144.62h1.9M1219.5 144.62h-1.9M997.6 136.09h1.9M1219.5 136.09h-1.9M997.6 127.55h1.9M1219.5 127.55h-1.9M997.6 119.01h1.9M1219.5 119.01h-1.9M997.6 110.47h3.1M1219.5 110.47h-3.1M997.6 101.94h1.9M1219.5 101.94h-1.9M997.6 93.4h1.9M1219.5 93.4h-1.9M997.6 84.86h1.9M1219.5 84.86h-1.9M997.6 76.33h1.9M1219.5 76.33h-1.9M997.6 67.79h3.1M1219.5 67.79h-3.1M997.6 59.25h1.9M1219.5 59.25h-1.9M997.6 50.72h1.9M1219.5 50.72h-1.9" class="tk"/>
<path d="M997.2 49.5H1219.9M997.2 329.45H1219.9" class="frh"/>
<path d="M997.6 49.5V329.45M1219.5 49.5V329.45" class="frv"/>
<line x1="1001.95" y1="157.1" x2="1214.8" y2="157.1" stroke="#ff0000" stroke-width="1.8"/>
<g fill="#ff0000"><ellipse cx="1001.95" cy="157.1" rx="2" ry="3.1"/><ellipse cx="1023.24" cy="157.1" rx="2" ry="3.1"/><ellipse cx="1044.52" cy="157.1" rx="2" ry="3.1"/><ellipse cx="1065.81" cy="157.1" rx="2" ry="3.1"/><ellipse cx="1087.09" cy="157.1" rx="2" ry="3.1"/><ellipse cx="1108.38" cy="157.1" rx="2" ry="3.1"/><ellipse cx="1129.66" cy="157.1" rx="2" ry="3.1"/><ellipse cx="1150.95" cy="157.1" rx="2" ry="3.1"/><ellipse cx="1172.23" cy="157.1" rx="2" ry="3.1"/><ellipse cx="1193.52" cy="157.1" rx="2" ry="3.1"/><ellipse cx="1214.8" cy="157.1" rx="2" ry="3.1"/></g>
<line x1="1001.95" y1="136.1" x2="1214.8" y2="136.1" stroke="#ff8000" stroke-width="1.8"/>
<g fill="#ff8000"><path d="M999.25 136.1L1002.95 133.3L1002.95 138.9Z"/><path d="M1020.53 136.1L1024.24 133.3L1024.24 138.9Z"/><path d="M1041.82 136.1L1045.52 133.3L1045.52 138.9Z"/><path d="M1063.11 136.1L1066.81 133.3L1066.81 138.9Z"/><path d="M1084.39 136.1L1088.09 133.3L1088.09 138.9Z"/><path d="M1105.67 136.1L1109.38 133.3L1109.38 138.9Z"/><path d="M1126.96 136.1L1130.66 133.3L1130.66 138.9Z"/><path d="M1148.25 136.1L1151.95 133.3L1151.95 138.9Z"/><path d="M1169.53 136.1L1173.23 133.3L1173.23 138.9Z"/><path d="M1190.82 136.1L1194.52 133.3L1194.52 138.9Z"/><path d="M1212.1 136.1L1215.8 133.3L1215.8 138.9Z"/></g>
<line x1="1001.95" y1="110.7" x2="1214.8" y2="110.7" stroke="#0000ff" stroke-width="1.8"/>
<g fill="#0000ff"><ellipse cx="1001.95" cy="110.7" rx="2" ry="3.1"/><ellipse cx="1023.24" cy="110.7" rx="2" ry="3.1"/><ellipse cx="1044.52" cy="110.7" rx="2" ry="3.1"/><ellipse cx="1065.81" cy="110.7" rx="2" ry="3.1"/><ellipse cx="1087.09" cy="110.7" rx="2" ry="3.1"/><ellipse cx="1108.38" cy="110.7" rx="2" ry="3.1"/><ellipse cx="1129.66" cy="110.7" rx="2" ry="3.1"/><ellipse cx="1150.95" cy="110.7" rx="2" ry="3.1"/><ellipse cx="1172.23" cy="110.7" rx="2" ry="3.1"/><ellipse cx="1193.52" cy="110.7" rx="2" ry="3.1"/><ellipse cx="1214.8" cy="110.7" rx="2" ry="3.1"/></g>
<line x1="1001.95" y1="86.5" x2="1214.8" y2="86.5" stroke="#00ff00" stroke-width="1.8"/>
<g fill="#00ff00"><path d="M999.25 86.5L1002.95 83.7L1002.95 89.3Z"/><path d="M1020.53 86.5L1024.24 83.7L1024.24 89.3Z"/><path d="M1041.82 86.5L1045.52 83.7L1045.52 89.3Z"/><path d="M1063.11 86.5L1066.81 83.7L1066.81 89.3Z"/><path d="M1084.39 86.5L1088.09 83.7L1088.09 89.3Z"/><path d="M1105.67 86.5L1109.38 83.7L1109.38 89.3Z"/><path d="M1126.96 86.5L1130.66 83.7L1130.66 89.3Z"/><path d="M1148.25 86.5L1151.95 83.7L1151.95 89.3Z"/><path d="M1169.53 86.5L1173.23 83.7L1173.23 89.3Z"/><path d="M1190.82 86.5L1194.52 83.7L1194.52 89.3Z"/><path d="M1212.1 86.5L1215.8 83.7L1215.8 89.3Z"/></g>
<line x1="1001.95" y1="63.75" x2="1214.8" y2="63.75" stroke="#000000" stroke-width="1.8"/>
<g fill="#000000"><ellipse cx="1001.95" cy="63.75" rx="2" ry="3.1"/><ellipse cx="1023.24" cy="63.75" rx="2" ry="3.1"/><ellipse cx="1044.52" cy="63.75" rx="2" ry="3.1"/><ellipse cx="1065.81" cy="63.75" rx="2" ry="3.1"/><ellipse cx="1087.09" cy="63.75" rx="2" ry="3.1"/><ellipse cx="1108.38" cy="63.75" rx="2" ry="3.1"/><ellipse cx="1129.66" cy="63.75" rx="2" ry="3.1"/><ellipse cx="1150.95" cy="63.75" rx="2" ry="3.1"/><ellipse cx="1172.23" cy="63.75" rx="2" ry="3.1"/><ellipse cx="1193.52" cy="63.75" rx="2" ry="3.1"/><ellipse cx="1214.8" cy="63.75" rx="2" ry="3.1"/></g>
<path d="M998 239.5L1001.2 236.4L1004.4 239.5L1001.2 242.6Z" fill="#ff0000"/>
<text transform="translate(1007 243.1) scale(0.64 1) skewX(-5)" class="lg"><tspan font-style="italic">l</tspan><tspan dx="0.5" dy="0.9" font-style="normal">=</tspan><tspan dx="0.3" dy="-0.9" font-style="italic">1</tspan></text>
<path d="M997.8 259.2L1002 256.6L1002 261.8Z" fill="#ff8000"/><line x1="1001.2" y1="259.2" x2="1004.2" y2="259.2" stroke="#ff8000" stroke-width="1.6"/>
<text transform="translate(1007 262.8) scale(0.64 1) skewX(-5)" class="lg"><tspan font-style="italic">l</tspan><tspan dx="0.5" dy="0.9" font-style="normal">=</tspan><tspan dx="0.3" dy="-0.9" font-style="italic">2</tspan></text>
<path d="M998 278.7L1001.2 275.6L1004.4 278.7L1001.2 281.8Z" fill="#0000ff"/>
<text transform="translate(1007 282.3) scale(0.64 1) skewX(-5)" class="lg"><tspan font-style="italic">l</tspan><tspan dx="0.5" dy="0.9" font-style="normal">=</tspan><tspan dx="0.3" dy="-0.9" font-style="italic">3</tspan></text>
<path d="M997.8 298.2L1002 295.6L1002 300.8Z" fill="#00ff00"/><line x1="1001.2" y1="298.2" x2="1004.2" y2="298.2" stroke="#00ff00" stroke-width="1.6"/>
<text transform="translate(1007 301.8) scale(0.64 1) skewX(-5)" class="lg"><tspan font-style="italic">l</tspan><tspan dx="0.5" dy="0.9" font-style="normal">=</tspan><tspan dx="0.3" dy="-0.9" font-style="italic">4</tspan></text>
<path d="M998 317.3L1001.2 314.2L1004.4 317.3L1001.2 320.4Z" fill="#000000"/>
<text transform="translate(1007 320.9) scale(0.64 1) skewX(-5)" class="lg"><tspan font-style="italic">l</tspan><tspan dx="0.5" dy="0.9" font-style="normal">=</tspan><tspan dx="0.3" dy="-0.9" font-style="italic">5</tspan></text>
<text transform="translate(995.3 328.4) scale(0.64 1)" class="tl" text-anchor="end">0.00</text>
<text transform="translate(995.3 285.71) scale(0.64 1)" class="tl" text-anchor="end">0.05</text>
<text transform="translate(995.3 243.03) scale(0.64 1)" class="tl" text-anchor="end">0.10</text>
<text transform="translate(995.3 200.34) scale(0.64 1)" class="tl" text-anchor="end">0.15</text>
<text transform="translate(995.3 157.66) scale(0.64 1)" class="tl" text-anchor="end">0.20</text>
<text transform="translate(995.3 114.97) scale(0.64 1)" class="tl" text-anchor="end">0.25</text>
<text transform="translate(995.3 72.29) scale(0.64 1)" class="tl" text-anchor="end">0.30</text>
<text transform="translate(1001.95 345) scale(0.64 1)" class="tl" text-anchor="middle">0.0</text>
<text transform="translate(1044.52 345) scale(0.64 1)" class="tl" text-anchor="middle">0.1</text>
<text transform="translate(1087.09 345) scale(0.64 1)" class="tl" text-anchor="middle">0.2</text>
<text transform="translate(1129.66 345) scale(0.64 1)" class="tl" text-anchor="middle">0.3</text>
<text transform="translate(1172.23 345) scale(0.64 1)" class="tl" text-anchor="middle">0.4</text>
<text transform="translate(1214.8 345) scale(0.64 1)" class="tl" text-anchor="middle">0.5</text>
<text transform="translate(1051.7 312) scale(0.63 1)" class="al"><tspan font-style="italic">α</tspan> = +0.2</text>
<text transform="translate(1202.7 319) scale(0.66 1)" class="pl">(<tspan font-style="italic">d</tspan>)</text>
<text transform="translate(1108.4 370.6) scale(0.68 1)" class="bt" text-anchor="middle">β</text>
<text transform="translate(973 190.1) rotate(-90) scale(1.0 0.72)" class="yl" text-anchor="middle"><tspan font-weight="normal">−</tspan><tspan dx="1.6">Im</tspan><tspan font-weight="normal">[</tspan><tspan font-weight="normal" font-style="italic" font-size="14px" dx="0.3">ω</tspan><tspan font-weight="normal" dx="0.3">]</tspan></text>
</svg>
</body></html>
